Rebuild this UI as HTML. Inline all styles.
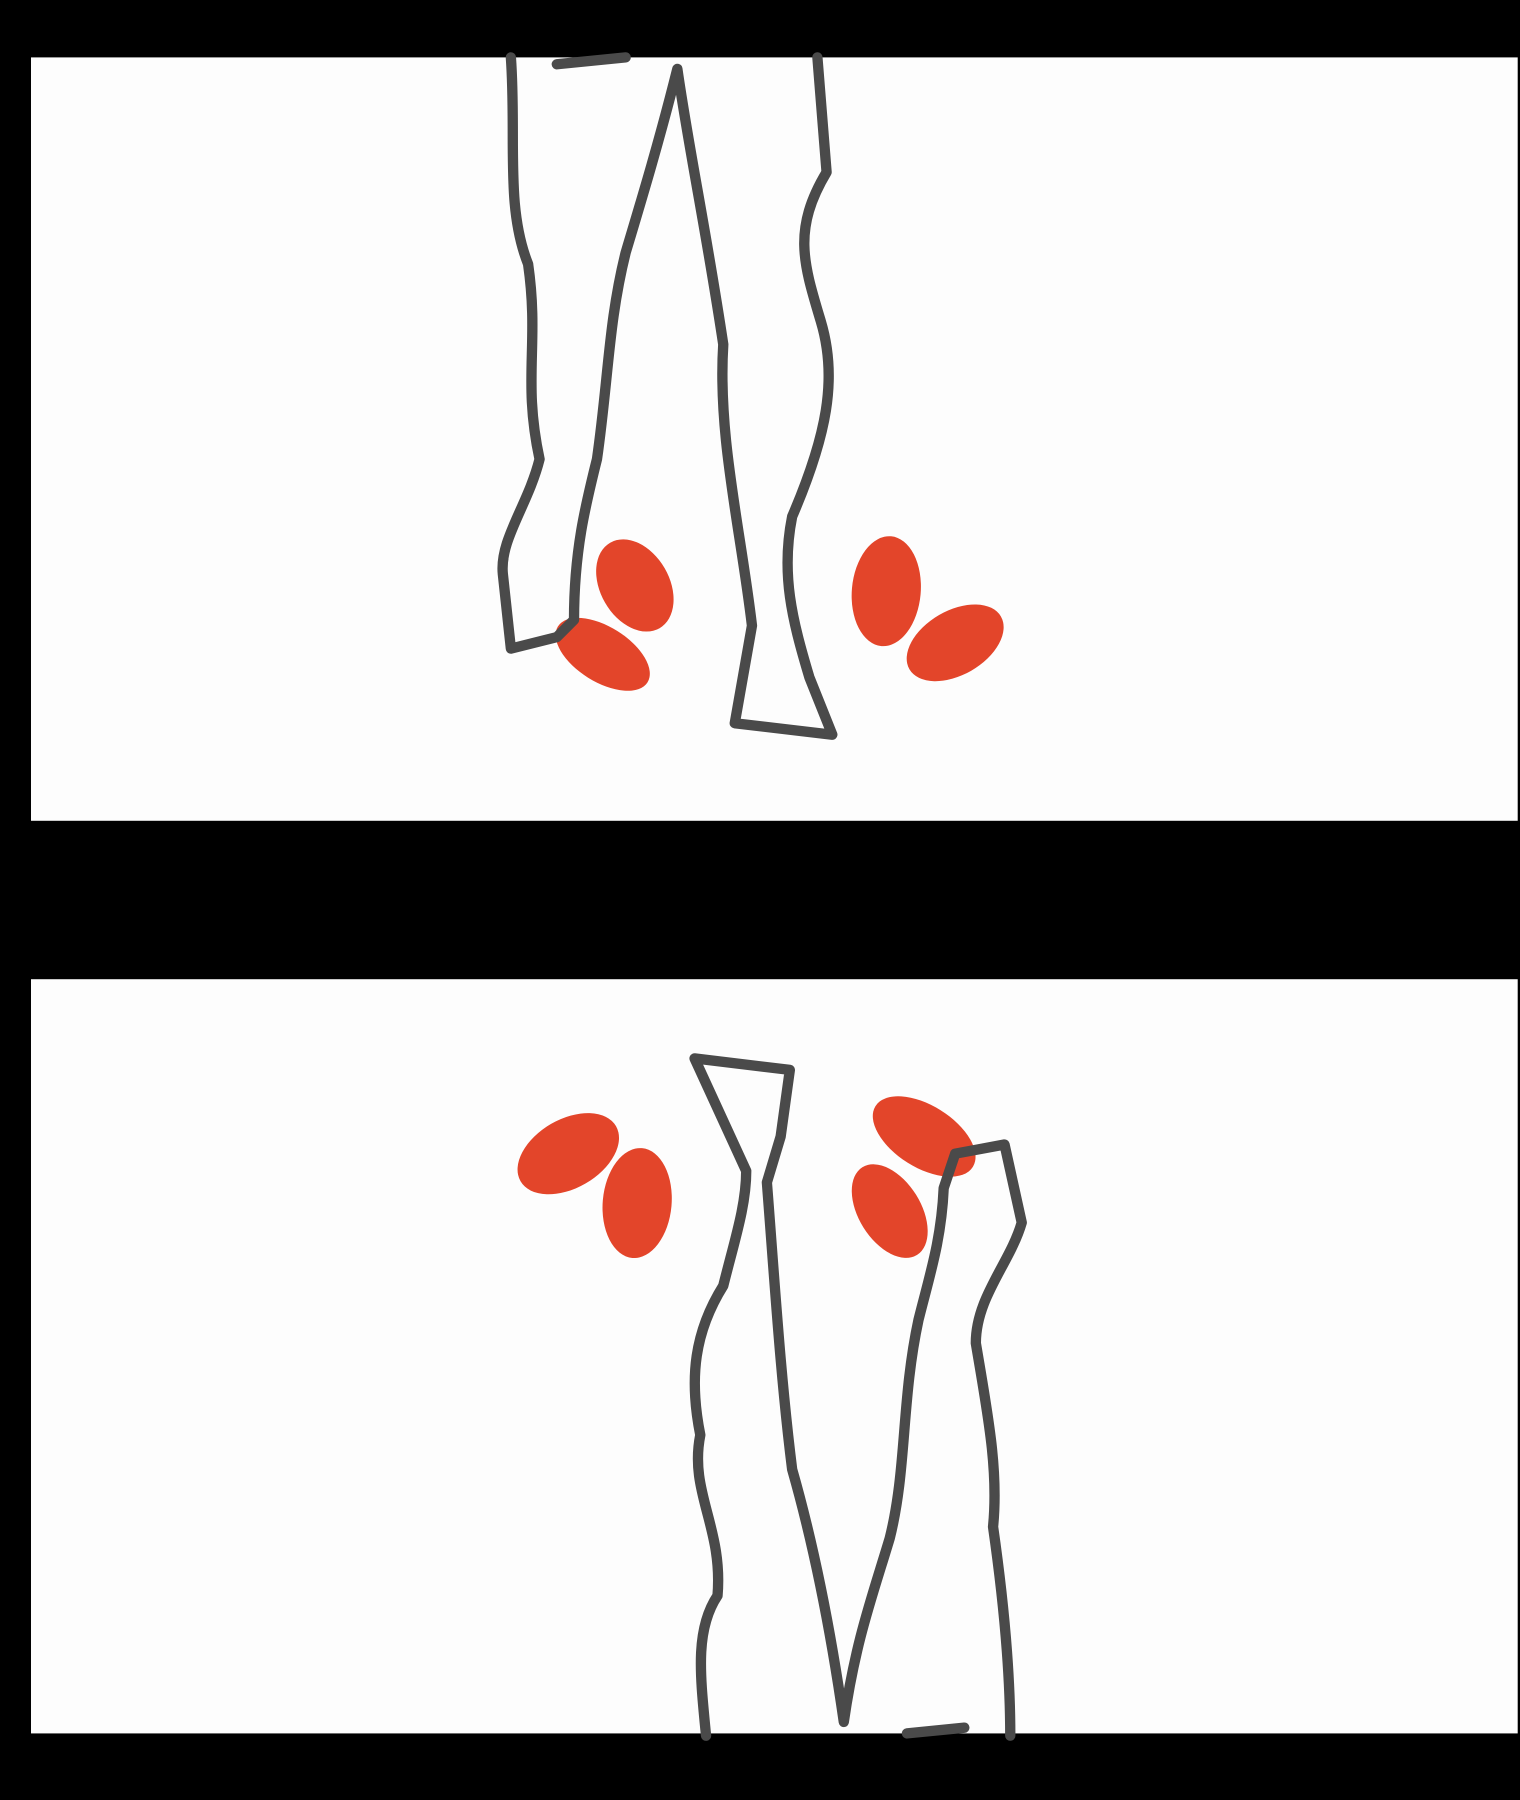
<!DOCTYPE html>
<html><head><meta charset="utf-8"><style>
html,body{margin:0;padding:0;background:#000;width:1520px;height:1800px;overflow:hidden}
svg{display:block}
</style></head><body>
<svg width="1520" height="1800" viewBox="0 0 1324 1568" preserveAspectRatio="none">
<rect width="1324" height="1568" fill="#000"/>
<g>
<rect x="27" y="50" width="1295" height="665" fill="#fdfdfd"/>
<g fill="#e23c1f" opacity="0.95">
<ellipse cx="553" cy="510" rx="30" ry="43" transform="rotate(-30 553 510)"/>
<ellipse cx="525" cy="570" rx="24" ry="46" transform="rotate(-58 525 570)"/>
<ellipse cx="772" cy="515" rx="30" ry="48" transform="rotate(5 772 515)"/>
<ellipse cx="832" cy="560" rx="46" ry="28" transform="rotate(-30 832 560)"/>
</g>
<g fill="none" stroke="#4a4a4a" stroke-width="9" stroke-linejoin="round" stroke-linecap="round">
<path d="M445,50 C450,120 440,180 460,230 C470,300 455,330 470,400 C460,440 435,470 438,500 L445,565 L485,555 L500,540 C500,480 510,440 520,400 C530,330 530,280 545,220 C560,170 575,120 590,60 C600,130 615,200 630,300 C625,380 645,460 655,545 L640,630 L725,640 L705,590 C690,540 680,500 690,450 C720,380 730,330 715,280 C700,230 690,200 720,150 L712,50"/>
<path d="M485,56 L545,50"/>
</g>
</g>
<g>
<rect x="27" y="853" width="1295" height="657" fill="#fdfdfd"/>
<g fill="#e23c1f" opacity="0.95">
<ellipse cx="495" cy="1005" rx="48" ry="30" transform="rotate(-30 495 1005)"/>
<ellipse cx="555" cy="1048" rx="30" ry="48" transform="rotate(5 555 1048)"/>
<ellipse cx="805" cy="990" rx="50" ry="27" transform="rotate(32 805 990)"/>
<ellipse cx="775" cy="1055" rx="27" ry="45" transform="rotate(-32 775 1055)"/>
</g>
<g fill="none" stroke="#4a4a4a" stroke-width="9" stroke-linejoin="round" stroke-linecap="round">
<path d="M615,1512 C610,1460 605,1420 625,1390 C630,1330 600,1300 610,1250 C600,1200 605,1160 630,1120 C640,1080 650,1050 650,1020 L605,922 L688,932 L680,990 L668,1030 C675,1120 680,1200 690,1280 C710,1350 725,1430 735,1500 C745,1430 760,1390 775,1340 C790,1280 785,1220 800,1150 C810,1110 820,1080 822,1035 L832,1005 L875,997 L890,1065 C880,1100 850,1130 850,1170 C860,1230 870,1280 865,1330 C875,1400 880,1460 880,1512"/>
<path d="M790,1510 L840,1505"/>
</g>
</g>
</svg>
</body></html>
